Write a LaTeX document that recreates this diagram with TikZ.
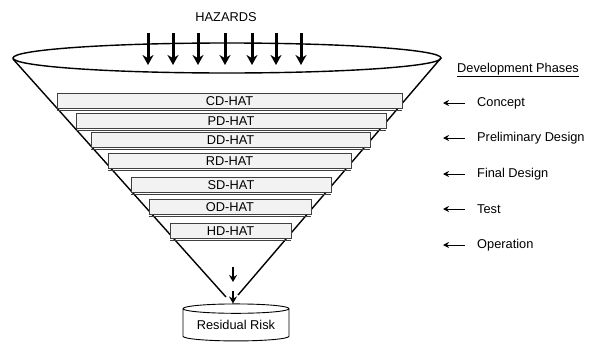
\documentclass[tikz,border=0pt]{standalone}
\usepackage{fontspec}
\setmainfont{Liberation Sans}
\usetikzlibrary{arrows.meta,positioning,shapes.geometric}

\begin{document}
\begin{tikzpicture}[x=1pt,y=-1pt,>=Stealth]
        \tikzset{hatbar/.style={draw=black!75,fill=black!5,line width=0.9pt,minimum height=14.5pt,inner sep=0pt,font=\fontsize{12.8}{13}\selectfont},
          phase/.style={anchor=west,inner sep=0pt,font=\fontsize{12.8}{13}\selectfont},
          hazard/.style={line width=3pt,-{Stealth[length=10pt,width=11pt]}},
          funnel/.style={line width=1.4pt}}
        \useasboundingbox (0,0) rectangle (597,343);
        \node[font=\fontsize{12.8}{13}\selectfont] (haz) at (226,17) {HAZARDS};
        \draw[funnel] (227,58) ellipse [x radius=214, y radius=15];
        \coordinate (lt) at (13,59);
        \coordinate (rt) at (441,58);
        \coordinate (lb) at (226,297);
        \coordinate (rb) at (238,295);
        \draw[funnel] (lt) -- (lb);
        \draw[funnel] (rt) -- (rb);
        \foreach \i/\x in {1/148,2/173,3/198,4/225,5/252,6/276,7/301}{\coordinate (h\i) at (\x,33); \draw[hazard] (h\i) -- ++(0,32);}
        \node[hatbar,minimum width=345pt] (b1) at (229.5,101) {CD-HAT};
        \node[hatbar,minimum width=310pt] (b2) at (231,121) {PD-HAT};
        \node[hatbar,minimum width=279pt] (b3) at (230.5,140) {DD-HAT};
        \node[hatbar,minimum width=243pt] (b4) at (229.5,161) {RD-HAT};
        \node[hatbar,minimum width=200pt] (b5) at (231,185) {SD-HAT};
        \node[hatbar,minimum width=162pt] (b6) at (230,207) {OD-HAT};
        \node[hatbar,minimum width=121pt] (b7) at (230.5,231) {HD-HAT};
        \foreach \b in {b1,b2,b3,b4,b5,b6,b7}{\draw[black!75,line width=0.9pt] ([yshift=-1.6pt]\b.south west) -- ([yshift=-1.6pt]\b.south east);}
        \node[cylinder,shape border rotate=90,aspect=0.12,draw,line width=0.9pt,minimum width=106pt,minimum height=37pt,inner sep=0pt,font=\fontsize{12.8}{13}\selectfont] (rr) at (236,325) {Residual Risk};
        \coordinate (d1) at (233,267);
        \coordinate (d2) at (233,291);
        \draw[line width=1.6pt,-{Stealth[length=7pt,width=8pt]}] (d1) -- ++(0,15);
        \draw[line width=1.6pt,-{Stealth[length=7pt,width=8pt]}] (d2) -- (d2 |- rr.north);
        \node[phase] (dev) at (457,70) {\underline{Development Phases}};
        \node[phase] (p1) at (477,103) {Concept};
        \node[phase] (p2) at (477,138) {Preliminary Design};
        \node[phase] (p3) at (477,174) {Final Design};
        \node[phase] (p4) at (477,209) {Test};
        \node[phase] (p5) at (477,245) {Operation};
        \foreach \p in {p1,p2,p3,p4,p5}{\draw[line width=1pt,-{Stealth[length=6pt,width=6pt]}] ([xshift=-12pt]\p.west) -- ++(-22,0);}
      \end{tikzpicture}
\end{document}
